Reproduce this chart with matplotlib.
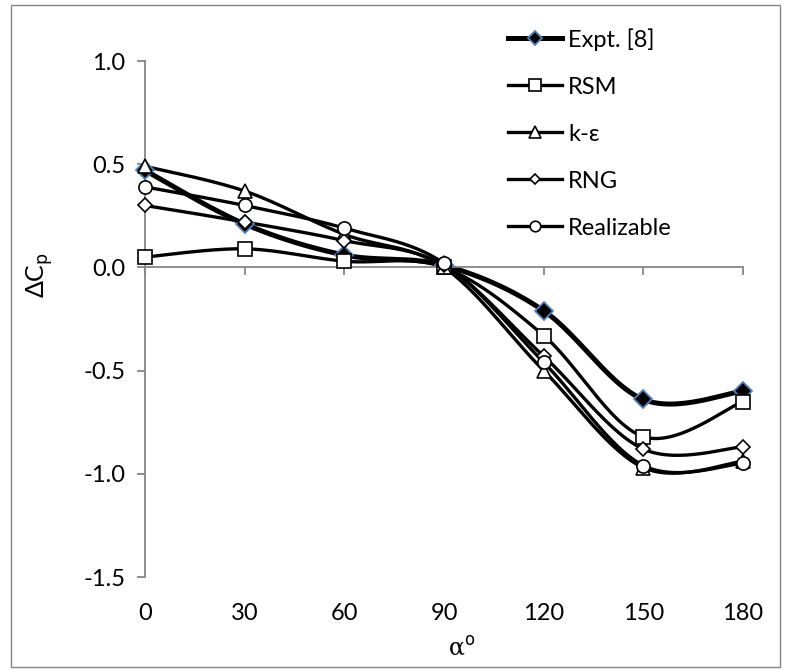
"""
Pressure-difference coefficient vs. wind angle — Expt. vs. turbulence models.
Excel-style smoothed line chart recreated with matplotlib.
"""

import matplotlib
matplotlib.use("Agg")
import matplotlib.pyplot as plt
import matplotlib.transforms as mtransforms
import numpy as np

# ─────────────────────────────────────────────────────────────
# Data
# ─────────────────────────────────────────────────────────────
ANGLES = [0, 30, 60, 90, 120, 150, 180]

EXPT       = [0.47, 0.21, 0.06, 0.01, -0.21, -0.64, -0.60]
RSM        = [0.05, 0.09, 0.03, 0.00, -0.33, -0.82, -0.65]
K_EPS      = [0.49, 0.37, 0.16, 0.00, -0.50, -0.97, -0.94]
RNG        = [0.30, 0.22, 0.13, 0.01, -0.43, -0.88, -0.87]
REALIZABLE = [0.39, 0.30, 0.19, 0.02, -0.46, -0.96, -0.95]

LABELS = ["Expt. [8]", "RSM", "k-ε", "RNG", "Realizable"]

Y_TICKS = [-1.5, -1.0, -0.5, 0.0, 0.5, 1.0]

FONT = "Lato"
FS = 17
AXIS_GREY = "#868686"


def _smooth(x, y, n=30):
    """Excel-like smoothing: Catmull-Rom segments as cubic Beziers."""
    x = np.asarray(x, float)
    y = np.asarray(y, float)
    px = np.concatenate([[x[0]], x, [x[-1]]])
    py = np.concatenate([[y[0]], y, [y[-1]]])
    t = np.linspace(0, 1, n)
    xs, ys = [], []
    for i in range(1, len(px) - 2):
        p0 = np.array([px[i], py[i]])
        p3 = np.array([px[i + 1], py[i + 1]])
        c1 = p0 + (np.array([px[i + 1], py[i + 1]]) - np.array([px[i - 1], py[i - 1]])) / 6
        c2 = p3 - (np.array([px[i + 2], py[i + 2]]) - np.array([px[i], py[i]])) / 6
        b = ((1 - t) ** 3)[:, None] * p0 + (3 * (1 - t) ** 2 * t)[:, None] * c1 \
            + (3 * (1 - t) * t ** 2)[:, None] * c2 + (t ** 3)[:, None] * p3
        xs.append(b[:, 0])
        ys.append(b[:, 1])
    return np.concatenate(xs), np.concatenate(ys)


fig = plt.figure(figsize=(7.86, 6.70), dpi=100)
fig.patch.set_facecolor("white")
ax = fig.add_axes([145 / 786, 1 - 577 / 670, 598 / 786, 516 / 670])

# chart-area border
fig.patches.append(plt.Rectangle((11 / 786, 3 / 670), 769 / 786, 662 / 670,
                                 transform=fig.transFigure, fill=False,
                                 edgecolor=AXIS_GREY, linewidth=1.0))

series = [
    (EXPT,       "D", 9.5, "black", "#4F81BD", 3.6, 1.3),
    (RSM,        "s", 10,  "white", "black",   2.4, 1.2),
    (K_EPS,      "^", 10,  "white", "black",   2.4, 1.2),
    (RNG,        "D", 7,   "white", "black",   2.4, 1.2),
    (REALIZABLE, "o", 9.5, "white", "black",   2.4, 1.2),
]

handles = []
for (vals, mk, ms, mfc, mec, lw, mew), lab in zip(series, LABELS):
    sx, sy = _smooth(ANGLES, vals)
    ax.plot(sx, sy, color="black", linewidth=lw, solid_capstyle="round",
            zorder=2, clip_on=False)
    ax.plot(ANGLES, vals, linestyle="none", marker=mk, markersize=ms,
            markerfacecolor=mfc, markeredgecolor=mec, markeredgewidth=mew,
            zorder=3, clip_on=False)
    h, = ax.plot([], [], color="black", linewidth=lw, marker=mk, markersize=ms * 0.8,
                 markerfacecolor=mfc, markeredgecolor=mec, markeredgewidth=mew,
                 label=lab)
    handles.append(h)

ax.set_xlim(0, 180)
ax.set_ylim(-1.5, 1.0)
ax.set_xticks(ANGLES)
ax.set_yticks(Y_TICKS)
ax.set_yticklabels([f"{v:.1f}" for v in Y_TICKS], fontsize=FS, fontfamily=FONT)
ax.set_xticklabels([])

for side in ("top", "right"):
    ax.spines[side].set_visible(False)
ax.spines["bottom"].set_position(("data", 0))
for side in ("left", "bottom"):
    ax.spines[side].set_color(AXIS_GREY)
    ax.spines[side].set_linewidth(1.3)
ax.tick_params(axis="both", direction="out", length=6, width=1.3, color=AXIS_GREY)
ax.tick_params(axis="y", pad=8)

# category labels sit below the plot area, as in Excel's "low" label position
trans = mtransforms.blended_transform_factory(ax.transData, ax.transAxes)
for a in ANGLES:
    ax.text(a, -0.07, str(a), transform=trans, ha="center", va="center",
            fontsize=FS, fontfamily=FONT)

fig.text(40 / 786, 1 - 275 / 670, r"ΔC$_\mathrm{p}$", rotation=90,
         ha="center", va="center", fontsize=18, fontfamily=FONT)
fig.text(462 / 786, 1 - 648 / 670, r"α$^\mathrm{o}$", ha="center", va="center",
         fontsize=17, fontfamily="DejaVu Serif")

ax.legend(handles=handles, loc="upper left",
          bbox_to_anchor=(508 / 786, 1 - 28 / 670), bbox_transform=fig.transFigure,
          frameon=False, prop={"family": FONT, "size": FS},
          handlelength=2.3, handletextpad=0.25, labelspacing=1.1,
          borderpad=0, borderaxespad=0)

fig.savefig("out.png", dpi=100, facecolor="white")
